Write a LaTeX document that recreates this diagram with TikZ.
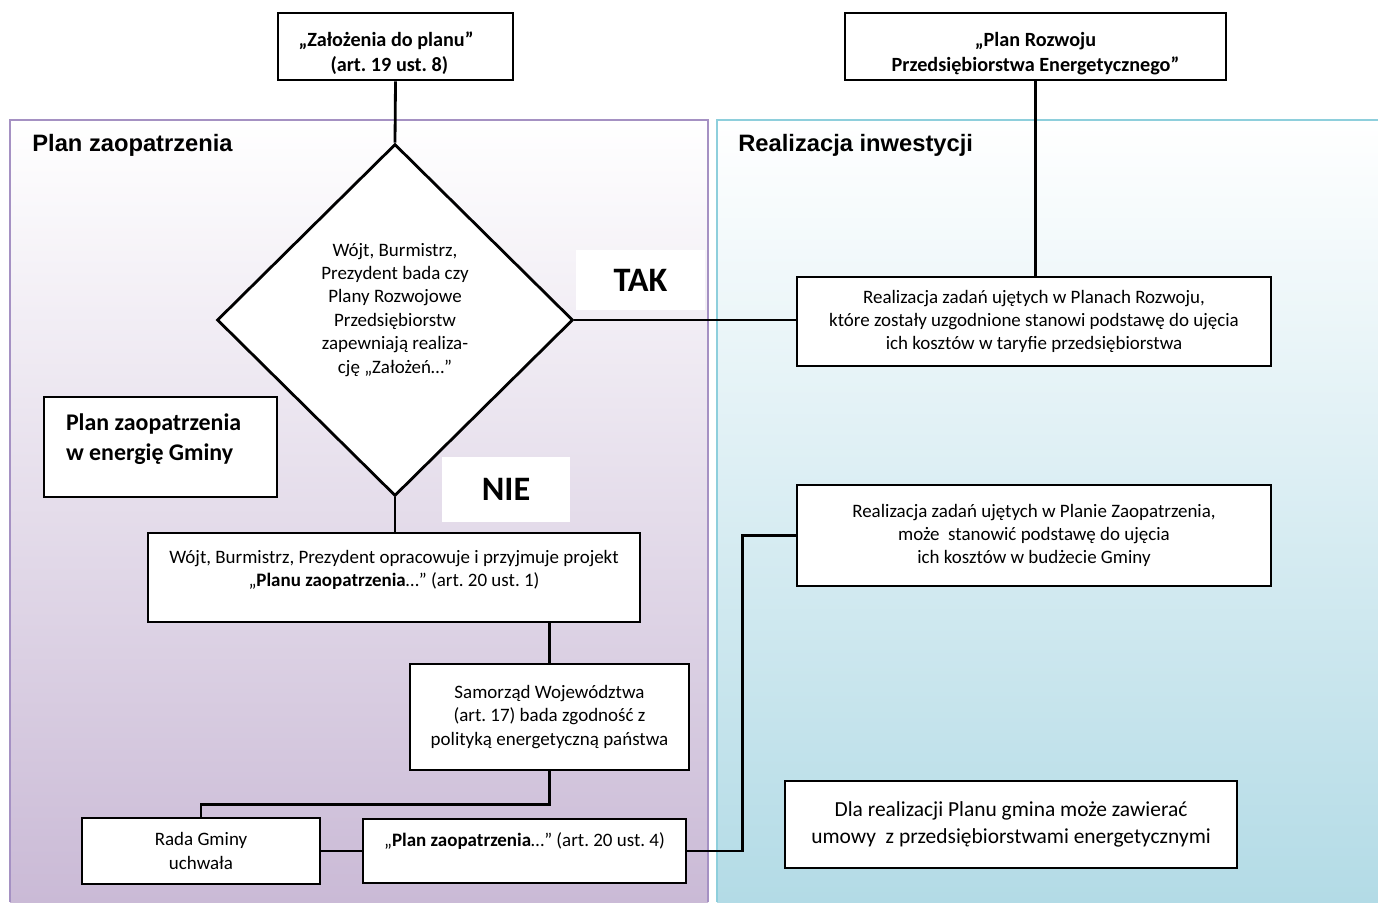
\documentclass[tikz,border=0pt]{standalone}
\usepackage{fontspec}
\setmainfont{Carlito}
\newfontfamily\headfont{Liberation Sans}
\usetikzlibrary{shapes}
\usetikzlibrary{shapes.geometric}
\frenchspacing
\definecolor{plan_fill}{HTML}{CABAD6}
\definecolor{plan_edge}{HTML}{A591C3}
\definecolor{inv_fill}{HTML}{B3DBE6}
\definecolor{inv_edge}{HTML}{8ECFDC}
\newcommand{\topgap}{\rule{0pt}{16pt}}
\newcommand{\lowgap}{\rule[-13.5pt]{0pt}{1pt}}
\tikzset{
	basenode/.style = {
		align=flush center,
		inner sep=0pt,
		font=\fontsize{10.8}{13.3}\selectfont
	},
	node_box/.style = {
		basenode,
		rectangle,
		draw=black,
		fill=white,
		line width=1.6pt
	},
	node_title/.style = {
		node_box,
		font=\fontsize{11.5}{14.6}\selectfont\bfseries
	},
	node_big/.style = {
		node_box,
		font=\fontsize{12.2}{15}\selectfont
	},
	node_decision/.style = {
		basenode,
		diamond,
		draw=black,
		fill=white,
		line width=1.6pt,
		minimum width=7.12cm,
		minimum height=7.04cm,
		text width=3.4cm
	},
	node_answer/.style = {
		basenode,
		fill=white,
		font=\fontsize{19.5}{22}\selectfont\bfseries
	},
	node_head/.style = {
		anchor=west,
		inner sep=0pt,
		font=\headfont\fontsize{13.5}{16}\selectfont\bfseries
	},
	link/.style = {
		draw=black,
		line width=1.6pt
	},
}

\begin{document}
\begin{tikzpicture}[x=0.02cm, y=-0.02cm]
\useasboundingbox (0,0) rectangle (1378,902);
\fill[white] (0,0) rectangle (1378,902);
\shade[top color=white, bottom color=plan_fill] (10,120) rectangle (708,902);
\draw[plan_edge, line width=1pt] (10,902) -- (10,120) -- (708,120) -- (708,902);
\shade[top color=white, bottom color=inv_fill] (717,120) rectangle (1378,902);
\draw[inv_edge, line width=1pt] (717,902) -- (717,120) -- (1378,120);

\node [node_head] (head_plan) at (32,145) {Plan zaopatrzenia};
\node [node_head] (head_inv) at (738,145) {Realizacja inwestycji};

\node [node_title, minimum width=4.7cm, minimum height=1.34cm, text width=3.88cm, align=flush left] (zal) at (395.5,46.5) {\topgap„Założenia do planu”\\\hspace*{0.64cm}(art. 19 ust. 8)};
\node [node_title, minimum width=7.62cm, minimum height=1.34cm] (rozwoj) at (1035.5,46.5) {\topgap„Plan Rozwoju\\Przedsiębiorstwa Energetycznego”};
\node [node_decision] (bada) at (395,320) {Wójt, Burmistrz,\\Prezydent bada czy\\Plany Rozwojowe\\Przedsiębiorstw\\zapewniają realiza-\\cję „Założeń…”\lowgap};
\node [node_answer, minimum width=2.58cm, minimum height=1.2cm] (tak) at (640.5,280) {TAK};
\node [node_answer, minimum width=2.56cm, minimum height=1.3cm] (nie) at (506,489.5) {NIE};
\node [node_box, minimum width=9.48cm, minimum height=1.78cm] (taryfa) at (1034,321.5) {Realizacja zadań ujętych w Planach Rozwoju,\\które zostały uzgodnione stanowi podstawę do ujęcia\\ich kosztów w taryfie przedsiębiorstwa};
\node [node_box, minimum width=4.66cm, minimum height=2cm, text width=3.78cm, align=flush left, font=\fontsize{13.6}{16.8}\selectfont\bfseries] (gmina) at (160.5,447) {Plan zaopatrzenia\\w energię Gminy\rule[-11.5pt]{0pt}{1pt}};
\node [node_box, minimum width=9.84cm, minimum height=1.78cm] (projekt) at (394,577.5) {Wójt, Burmistrz, Prezydent opracowuje i przyjmuje projekt\\„\textbf{Planu zaopatrzenia}…” (art. 20 ust. 1)\rule[-10pt]{0pt}{1pt}};
\node [node_box, minimum width=5.58cm, minimum height=2.12cm] (samorzad) at (549.5,717) {Samorząd Województwa\\(art. 17) bada zgodność z\\polityką energetyczną państwa};
\node [node_box, minimum width=4.76cm, minimum height=1.32cm] (rada) at (201,851) {Rada Gminy\\uchwała};
\node [node_box, minimum width=6.46cm, minimum height=1.28cm, text depth=0.45cm] (plan) at (524.5,851) {„\textbf{Plan zaopatrzenia}…” (art. 20 ust. 4)};
\node [node_box, minimum width=9.48cm, minimum height=2.02cm] (budzet) at (1034,535.5) {Realizacja zadań ujętych w Planie Zaopatrzenia,\\może\ \ stanowić podstawę do ujęcia\\ich kosztów w budżecie Gminy};
\node [node_big, minimum width=9.04cm, minimum height=1.74cm] (umowy) at (1011,824.5) {Dla realizacji Planu gmina może zawierać\\umowy\ \ z przedsiębiorstwami energetycznymi};

\draw [link] (zal.south) -- (bada.north);
\draw [link] (rozwoj.south) -- (rozwoj.south |- taryfa.north);
\draw [link] (bada.east) -- (bada.east -| taryfa.west);
\draw [link] (bada.south) -- (bada.south |- projekt.north);
\draw [link] (samorzad.north) -- (samorzad.north |- projekt.south);
\draw [link] (samorzad.south) -- ++(0,33) -| (rada.north);
\draw [link] (rada.east) -- (rada.east -| plan.west);
\draw [link] (plan.east) -- ++(55,0) |- (budzet.west);
\end{tikzpicture}
\end{document}
